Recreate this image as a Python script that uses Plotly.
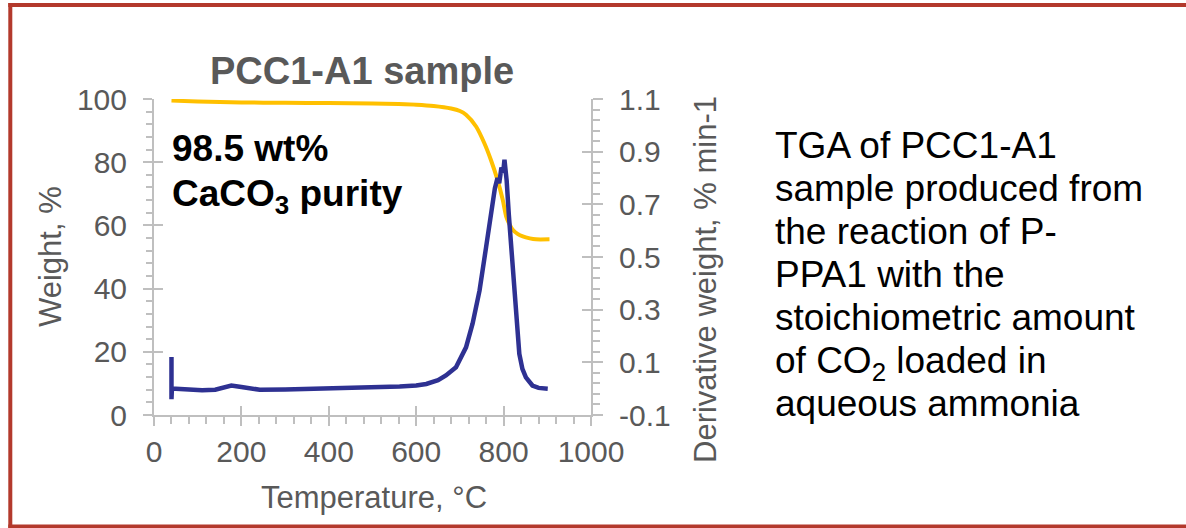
import plotly.graph_objects as go

# ---------------- data ----------------
temp_weight = [40, 100, 200, 300, 400, 500, 560, 600, 640, 680, 700, 714, 737, 756,
               771, 786, 798, 806, 813, 821, 832, 844, 860, 874, 905]
weight_pct = [99.5, 99.2, 98.9, 98.8, 98.7, 98.6, 98.4, 98.2, 97.8, 97.0, 96.2, 95.0,
              91.3, 86.0, 80.7, 74.4, 68.1, 62.8, 60.5, 58.6, 57.3, 56.5, 55.9, 55.6, 55.6]

temp_deriv = [40, 40, 41, 50, 70, 84, 110, 140, 160, 177, 200, 242, 300, 409, 500, 562,
              600, 623, 650, 668, 691, 714, 729, 745, 760, 771, 780, 786, 790, 795, 799,
              802, 807, 812, 817, 825, 836, 843, 851, 866, 880, 901]
deriv_weight = [0.12, -0.04, 0.0, 0.0, -0.002, 0.0, -0.006, -0.004, 0.004, 0.012, 0.006,
                -0.004, -0.003, 0.0, 0.004, 0.008, 0.012, 0.018, 0.032, 0.05, 0.081,
                0.157, 0.247, 0.373, 0.538, 0.678, 0.76, 0.80, 0.78, 0.84, 0.82,
                0.869, 0.79, 0.66, 0.538, 0.348, 0.132, 0.075, 0.043, 0.012, 0.003, 0.0]

x_ticks = [0, 200, 400, 600, 800, 1000]
y_left_ticks = [0, 20, 40, 60, 80, 100]
y_right_ticks = [-0.1, 0.1, 0.3, 0.5, 0.7, 0.9, 1.1]
y_right_labels = ["-0.1", "0.1", "0.3", "0.5", "0.7", "0.9", "1.1"]

title_text = "<b>PCC1-A1 sample</b>"
purity_lines = ["<b>98.5 wt%</b>", "<b>CaCO<sub>3</sub> purity</b>"]
desc_lines = ["TGA of PCC1-A1", "sample produced from", "the reaction of P-",
              "PPA1 with the", "stoichiometric amount", "of CO<sub>2</sub> loaded in",
              "aqueous ammonia"]
x_title = "Temperature, °C"
y_left_title = "Weight, %"
y_right_title = "Derivative weight, % min-1"

# ---------------- style ----------------
W, H = 1186, 528
ML, MT = 154, 99
PW, PH = 437, 316
MR, MB = W - ML - PW, H - MT - PH
FONT = "Liberation Sans, Arial, sans-serif"
GREY_TXT = "#595959"
AX = "#BFBFBF"
ORANGE = "#FFC000"
NAVY = "#2E3192"
FRAME = "#B3392C"


def px_x(px):
    """screen pixel -> paper x"""
    return (px - ML) / PW


def px_y(py):
    """screen pixel -> paper y"""
    return (MT + PH - py) / PH


fig = go.Figure()
fig.add_trace(go.Scatter(x=temp_weight, y=weight_pct, mode="lines",
                         line=dict(color=ORANGE, width=4, shape="spline", smoothing=0.6),
                         showlegend=False, hoverinfo="skip"))
fig.add_trace(go.Scatter(x=temp_deriv, y=deriv_weight, mode="lines", yaxis="y2",
                         line=dict(color=NAVY, width=4.5),
                         showlegend=False, hoverinfo="skip"))
# empty helper traces so that the inside-tick overlay axes exist
fig.add_trace(go.Scatter(x=[None], y=[None], xaxis="x3", yaxis="y3", showlegend=False,
                         hoverinfo="skip"))
fig.add_trace(go.Scatter(x=[None], y=[None], xaxis="x3", yaxis="y4", showlegend=False,
                         hoverinfo="skip"))

tickfont = dict(family=FONT, size=30, color=GREY_TXT)

fig.update_layout(
    width=W, height=H,
    margin=dict(l=ML, r=MR, t=MT, b=MB, pad=0),
    paper_bgcolor="white", plot_bgcolor="white",
    font=dict(family=FONT),
    xaxis=dict(range=[0, 1000], tickmode="array", tickvals=x_ticks,
               ticks="outside", ticklen=9, tickwidth=2, tickcolor=AX,
               showline=True, linecolor=AX, linewidth=2, showgrid=False, zeroline=False,
               tickfont=tickfont, ticklabelstandoff=0,
               minor=dict(tick0=0, dtick=40, ticks="outside", ticklen=7, tickwidth=2,
                          tickcolor=AX, showgrid=False)),
    yaxis=dict(range=[0, 100], tickmode="array", tickvals=y_left_ticks,
               ticks="outside", ticklen=9, tickwidth=2, tickcolor=AX,
               showline=True, linecolor=AX, linewidth=2, showgrid=False, zeroline=False,
               tickfont=tickfont, ticklabelstandoff=10,
               minor=dict(tick0=0, dtick=4, ticks="outside", ticklen=6, tickwidth=2,
                          tickcolor=AX, showgrid=False)),
    yaxis2=dict(range=[-0.1, 1.1], overlaying="y", side="right", anchor="x",
                tickmode="array", tickvals=y_right_ticks, ticktext=y_right_labels,
                ticks="outside", ticklen=10, tickwidth=2, tickcolor=AX,
                showline=True, linecolor=AX, linewidth=2, showgrid=False, zeroline=False,
                tickfont=tickfont, ticklabelstandoff=10,
                minor=dict(tick0=-0.1, dtick=0.04, ticks="outside", ticklen=7, tickwidth=2,
                           tickcolor=AX, showgrid=False)),
    xaxis3=dict(range=[0, 1000], overlaying="x", anchor="y", side="bottom",
                tickmode="array", tickvals=x_ticks, ticks="inside", ticklen=9,
                tickwidth=2, tickcolor=AX, showticklabels=False, showline=False,
                showgrid=False, zeroline=False),
    yaxis3=dict(range=[0, 100], overlaying="y", anchor="x", side="left",
                tickmode="array", tickvals=y_left_ticks, ticks="inside", ticklen=9,
                tickwidth=2, tickcolor=AX, showticklabels=False, showline=False,
                showgrid=False, zeroline=False),
    yaxis4=dict(range=[-0.1, 1.1], overlaying="y", anchor="x", side="right",
                tickmode="array", tickvals=y_right_ticks, ticks="inside", ticklen=9,
                tickwidth=2, tickcolor=AX, showticklabels=False, showline=False,
                showgrid=False, zeroline=False),
)

ann = []
# title
ann.append(dict(text=title_text, x=px_x(362), y=px_y(84.3 - 0.905 * 38 - 2),
                xref="paper", yref="paper", xanchor="center", yanchor="top",
                showarrow=False, font=dict(family=FONT, size=38, color=GREY_TXT)))
# purity label
for i, line in enumerate(purity_lines):
    base = 161.7 + 45 * i
    ann.append(dict(text=line, x=px_x(170), y=px_y(base - 0.905 * 37 - 2),
                    xref="paper", yref="paper", xanchor="left", yanchor="top",
                    showarrow=False, font=dict(family=FONT, size=37, color="black")))
# description text
for i, line in enumerate(desc_lines):
    base = 158 + 43.0 * i
    ann.append(dict(text=line, x=px_x(773), y=px_y(base - 0.905 * 37 - 2),
                    xref="paper", yref="paper", xanchor="left", yanchor="top",
                    showarrow=False, font=dict(family=FONT, size=37, color="black")))
# axis titles
ann.append(dict(text=x_title, x=px_x(374), y=px_y(497), xref="paper", yref="paper",
                xanchor="center", yanchor="middle", showarrow=False,
                font=dict(family=FONT, size=31, color=GREY_TXT)))
ann.append(dict(text=y_left_title, x=px_x(50), y=px_y(257), xref="paper", yref="paper",
                xanchor="center", yanchor="middle", textangle=-90, showarrow=False,
                font=dict(family=FONT, size=31, color=GREY_TXT)))
ann.append(dict(text=y_right_title, x=px_x(705), y=px_y(280), xref="paper", yref="paper",
                xanchor="center", yanchor="middle", textangle=-90, showarrow=False,
                font=dict(family=FONT, size=31, color=GREY_TXT)))
fig.update_layout(annotations=ann)

# slide frame: left, top and bottom edges (right edge lies outside the picture)
frame_line = dict(color=FRAME, width=4)
fig.add_shape(type="line", xref="paper", yref="paper", layer="above", line=frame_line,
              x0=px_x(10.3), x1=px_x(10.3), y0=px_y(528.5), y1=px_y(3))
fig.add_shape(type="line", xref="paper", yref="paper", layer="above", line=frame_line,
              x0=px_x(8.3), x1=px_x(1195), y0=px_y(5), y1=px_y(5))
fig.add_shape(type="line", xref="paper", yref="paper", layer="above", line=frame_line,
              x0=px_x(8.3), x1=px_x(1195), y0=px_y(526.5), y1=px_y(526.5))

fig.write_html("out.html",
               config={"displayModeBar": False},
               post_script="document.body.style.margin='0px';"
                           "document.body.style.overflow='hidden';")
